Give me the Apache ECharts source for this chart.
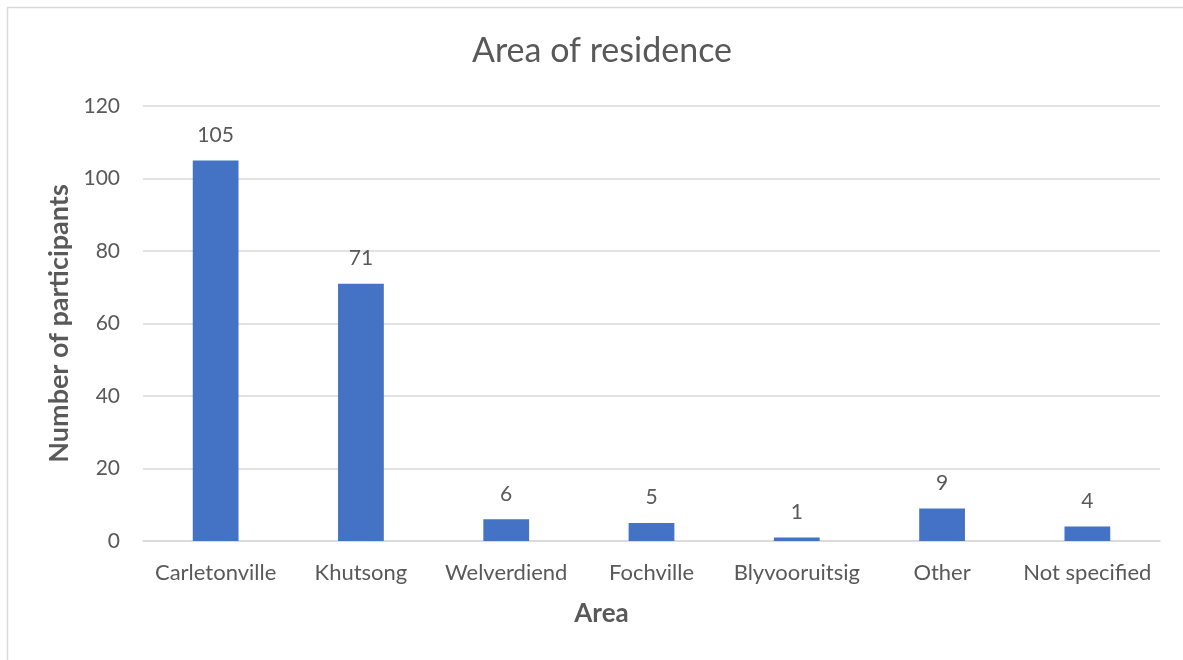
<!DOCTYPE html>
<html>
<head>
<meta charset="utf-8">
<script src="https://cdn.jsdelivr.net/npm/echarts@6/dist/echarts.min.js"></script>
<style>
  html, body { margin: 0; padding: 0; background: #fff; }
  #chart { width: 1183px; height: 660px; }
</style>
</head>
<body>
<div id="chart"></div>
<script>
const categories = ['Carletonville', 'Khutsong', 'Welverdiend', 'Fochville', 'Blyvooruitsig', 'Other', 'Not specified'];
const participants = [105, 71, 6, 5, 1, 9, 4];
const yTicks = { min: 0, max: 120, interval: 20 };

const FONT = 'Lato, "Open Sans", sans-serif';
const TEXT = '#595959';

const chart = echarts.init(document.getElementById('chart'), null, { renderer: 'canvas' });
chart.setOption({
  animation: false,
  backgroundColor: '#ffffff',
  graphic: [{
    type: 'rect',
    shape: { x: 7.5, y: 7.5, width: 1190, height: 670 },
    style: { fill: 'none', stroke: '#d9d9d9', lineWidth: 1.5 },
    silent: true
  }],
  title: {
    text: 'Area of residence',
    left: 597,
    textAlign: 'center',
    top: 29,
    textStyle: { fontFamily: FONT, fontSize: 34, fontWeight: 'normal', color: TEXT }
  },
  grid: { left: 143, right: 23, top: 106, bottom: 119 },
  xAxis: {
    type: 'category',
    data: categories,
    name: 'Area',
    nameLocation: 'middle',
    nameGap: 60,
    // the axis title sits left of the plot centre, nearer the chart centre
    nameTextStyle: { fontFamily: FONT, fontSize: 26, fontWeight: 'bold', color: TEXT, padding: [0, 100, 0, 0] },
    axisLine: { lineStyle: { color: '#d9d9d9', width: 1.5 } },
    axisTick: { show: false },
    axisLabel: { interval: 0, hideOverlap: false, fontFamily: FONT, fontSize: 22, color: TEXT, margin: 21 }
  },
  yAxis: {
    type: 'value',
    min: yTicks.min,
    max: yTicks.max,
    interval: yTicks.interval,
    name: 'Number of participants',
    nameLocation: 'middle',
    nameGap: 70,
    nameTextStyle: { fontFamily: FONT, fontSize: 27, fontWeight: 'bold', color: TEXT },
    axisLine: { show: false },
    axisTick: { show: false },
    splitLine: { lineStyle: { color: '#d9d9d9', width: 1.5 } },
    axisLabel: { fontFamily: FONT, fontSize: 21, color: TEXT, margin: 23 }
  },
  series: [{
    type: 'bar',
    data: participants,
    barWidth: '31.5%',
    itemStyle: { color: '#4472c4' },
    label: {
      show: true,
      position: 'top',
      distance: 15,
      fontFamily: FONT,
      fontSize: 21,
      color: TEXT
    }
  }]
});
</script>
</body>
</html>
